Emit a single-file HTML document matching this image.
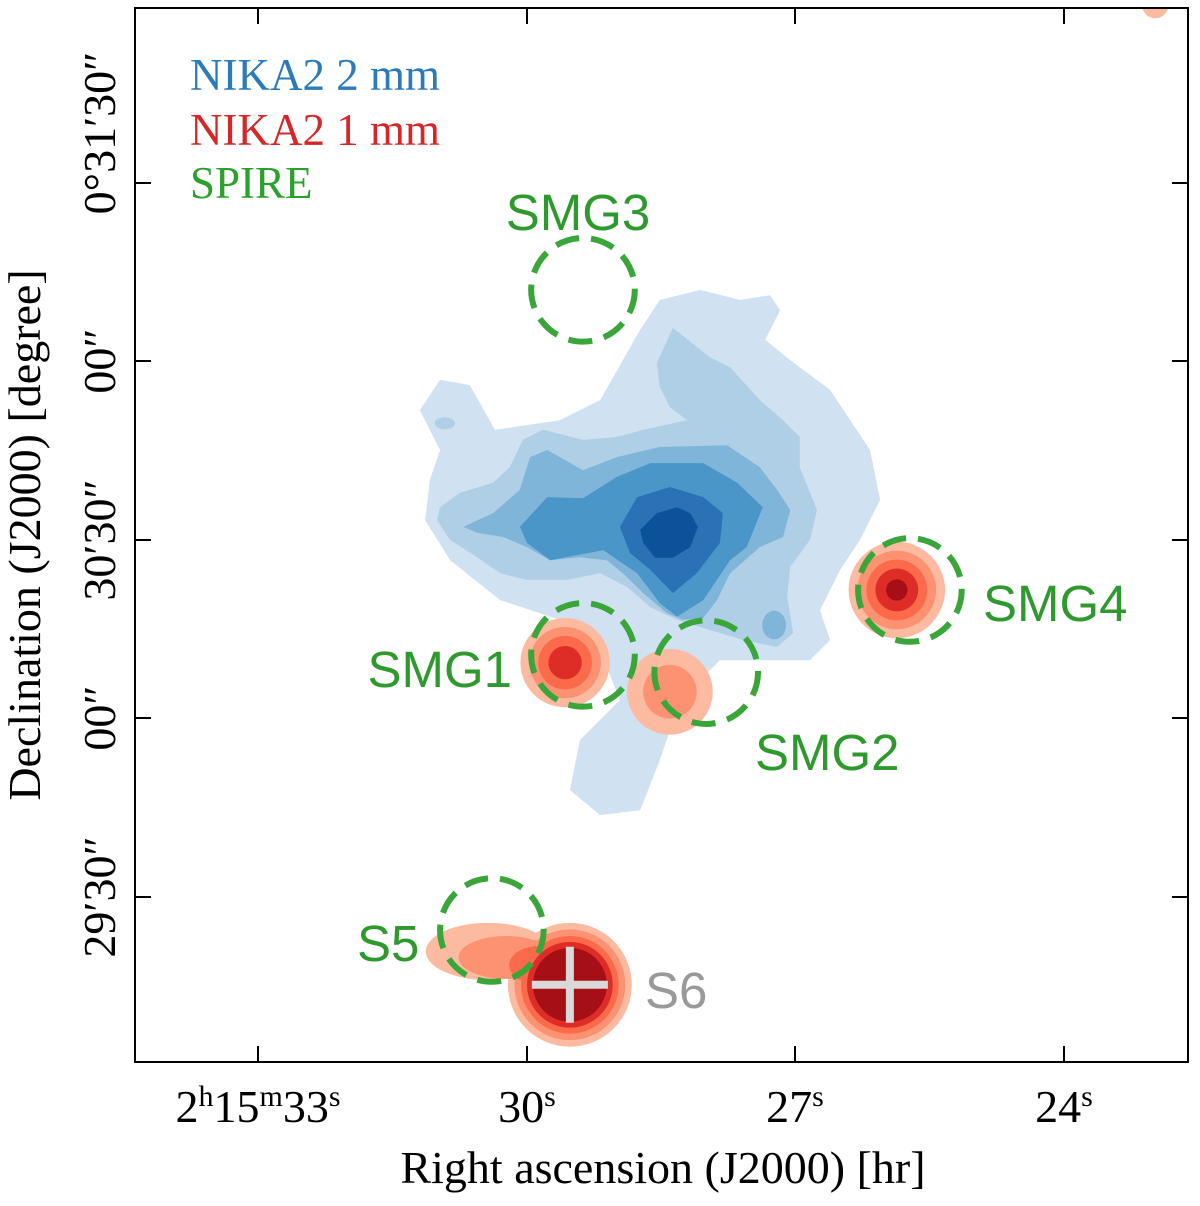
<!DOCTYPE html>
<html><head><meta charset="utf-8">
<style>
body{margin:0;background:#fff;}
svg text{font-family:"Liberation Serif",serif;}
.sans{font-family:"Liberation Sans",sans-serif !important;}
</style></head>
<body>
<svg id="chart" width="1200" height="1201" viewBox="0 0 1200 1201" xmlns="http://www.w3.org/2000/svg">
<rect x="0" y="0" width="1200" height="1201" fill="#fff"/>
<defs><clipPath id="clip"><rect x="135" y="8" width="1053" height="1054"/></clipPath></defs>
<g id="plot" clip-path="url(#clip)"></g>
<rect x="135" y="8" width="1053" height="1054" fill="none" stroke="#000" stroke-width="2"/>
<g id="ticks"></g>
<g>
<text x="190" y="90" font-size="45" fill="#2b7bba">NIKA2 2 mm</text>
<text x="190" y="145" font-size="45" fill="#d62728">NIKA2 1 mm</text>
<text x="190" y="198" font-size="45" fill="#2ca02c">SPIRE</text>
</g>
<text x="663" y="1183" font-size="46" text-anchor="middle">Right ascension (J2000) [hr]</text>
<text transform="translate(40,535) rotate(-90)" font-size="46" text-anchor="middle">Declination (J2000) [degree]</text>
<g font-size="46" text-anchor="middle">
<text x="258" y="1122">2<tspan font-size="30" dy="-16">h</tspan><tspan dy="16">15</tspan><tspan font-size="30" dy="-16">m</tspan><tspan dy="16">33</tspan><tspan font-size="30" dy="-16">s</tspan></text>
<text x="527" y="1122">30<tspan font-size="30" dy="-16">s</tspan></text>
<text x="795" y="1122">27<tspan font-size="30" dy="-16">s</tspan></text>
<text x="1064" y="1122">24<tspan font-size="30" dy="-16">s</tspan></text>
</g>
<g font-size="46" text-anchor="middle">
<text transform="translate(115,133) rotate(-90)">0°31′30″</text>
<text transform="translate(115,361) rotate(-90)">00″</text>
<text transform="translate(115,540) rotate(-90)">30′30″</text>
<text transform="translate(115,718) rotate(-90)">00″</text>
<text transform="translate(115,897) rotate(-90)">29′30″</text>
</g>
</svg>
<script>
// data coordinates: arcsec offsets from RA 2h15m30s, Dec 0°30'00" (west positive)
const blueL1=[[-18.0,51.7],[-14.6,56.8],[-9.6,55.9],[-5.4,48.4],[5.5,50.0],[12.3,53.4],[19.0,65.2],[22.3,70.2],[29.1,71.9],[35.8,70.2],[40.8,71.0],[42.5,68.5],[40.0,63.5],[44.2,60.1],[50.9,55.1],[57.6,45.0],[59.3,36.6],[55.9,29.9],[52.6,24.9],[49.2,18.1],[50.9,13.1],[47.5,9.7],[39.1,9.7],[32.4,9.7],[25.7,3.0],[22.3,-7.1],[19.0,-15.5],[12.3,-16.3],[7.2,-12.1],[8.9,-3.7],[15.6,3.0],[12.3,11.4],[5.5,16.5],[-4.5,19.8],[-12.9,26.5],[-17.1,33.2],[-16.3,40.0],[-14.6,45.0]];
const blueL2=[[24.5,65.5],[30.7,60.6],[34.1,58.9],[39.1,53.4],[43.0,50.0],[45.8,47.2],[45.8,42.1],[48.7,34.9],[47.5,29.9],[44.2,25.4],[43.7,20.3],[44.7,14.3],[42.0,11.9],[36.3,13.1],[30.7,14.8],[25.2,16.5],[20.7,18.6],[16.8,22.0],[12.3,24.3],[6.7,23.2],[0,23.2],[-4.5,24.3],[-8.4,27.0],[-12.9,29.9],[-15.1,33.2],[-14.6,35.4],[-11.3,37.8],[-5.7,39.5],[-2.9,42.1],[-0.7,46.7],[2.7,48.4],[9.4,46.7],[15.1,47.2],[19.5,48.4],[26.9,50.0],[24.0,52.2],[22.3,55.6],[21.8,59.6]];
const blueL3=[[-10.7,32.1],[-5.7,34.4],[-1.2,38.3],[0.5,43.8],[3.4,45.0],[9.4,41.6],[15.1,43.8],[22.3,45.5],[33.6,45.8],[39.1,42.1],[42.0,38.3],[44.2,34.9],[43.0,30.4],[39.1,28.7],[34.1,24.3],[31.9,19.8],[29.6,16.8],[26.2,16.5],[23.5,17.6],[19.5,21.0],[16.1,24.3],[13.4,26.5],[8.9,27.0],[3.9,26.5],[0,28.7],[-4.0,30.4],[-8.4,31.1]];
const blueL4=[[-1.2,32.1],[3.4,37.1],[9.4,36.9],[15.1,40.5],[20.7,42.8],[29.6,42.8],[35.3,39.5],[39.6,35.4],[36.9,28.7],[34.1,26.5],[29.6,19.8],[25.2,17.0],[22.3,19.3],[18.5,24.3],[12.8,28.2],[3.9,26.5],[0,29.4]];
const blueL5=[[15.6,32.1],[18.5,37.1],[24.0,38.8],[29.6,37.1],[32.9,34.4],[32.4,29.4],[28.5,24.3],[24.5,21.0],[20.7,24.9],[17.3,27.7]];
const blueL6=[[19.0,31.6],[21.8,34.4],[25.2,35.4],[27.4,34.4],[28.7,32.1],[27.4,28.7],[24.5,26.9],[21.5,26.9],[19.5,29.4]];
const blueContours=[blueL1,blueL2,blueL3,blueL4,blueL5,blueL6];
// small isolated blobs: [dx, dy, rx, ry, level]
const blueBlobs=[[-13.8,49.5,1.7,1.0,1],[41.5,15.6,2.0,2.4,2]];
const blueColors=["#d0e1f1","#aecfe5","#7fb5d9","#4a96c8","#2a72b5","#0b529a"];
const redColors=["#fcbba1","#fc9272","#fb6a4a","#de2d26","#a50f15"];
// red sources: [dx, dy, radii of successive contour levels]
const redSources=[[6.4,9.3,[7.5,6.0,4.5,2.8]],[24,4.4,[7.2,4.5]],[62.1,21.5,[8.1,6.6,5.1,3.6,1.8]],[7.2,-44.8,[10.4,9.3,8.2,7.2,6.2]],[105.5,119.7,[2.2]]];
// S5 elongated tail: [dx, dy, rx, ry, level]
const redTail=[[-6.5,-39.2,10.5,4.8,0],[-3.5,-40.2,8.0,3.6,1],[2,-41.5,5,3.2,2]];
const spireCircles=[[9.4,71.9],[9.4,10.6],[30.1,7.7],[64.3,21.5],[-5.9,-35.6]];
const spireRadius=8.7;
const labels=[["SMG3",578,230,"middle","#2e9a2e"],["SMG1",512,687,"end","#2e9a2e"],["SMG2",755,770,"start","#2e9a2e"],["SMG4",983,621,"start","#2e9a2e"],["S5",357,961,"start","#2e9a2e"],["S6",645,1008,"start","#999"]];
const S=5.955;
const X=d=>527+d*S, Y=d=>718-d*S;
const ns="http://www.w3.org/2000/svg";
const plot=document.getElementById('plot');
function mk(t,a){const e=document.createElementNS(ns,t);for(const k in a)e.setAttribute(k,a[k]);plot.appendChild(e);return e;}
blueContours.forEach((poly,i)=>{
const e=mk('path',{d:'M'+poly.map(q=>X(q[0])+','+Y(q[1])).join('L')+'Z',fill:blueColors[i]});

});
blueBlobs.forEach(b=>{const e=mk('ellipse',{cx:X(b[0]),cy:Y(b[1]),rx:b[2]*S,ry:b[3]*S,fill:blueColors[b[4]]});

});
const maxLev=Math.max(...redSources.map(s=>s[2].length));
for(let i=0;i<maxLev;i++){
redTail.forEach(t=>{if(t[4]===i){const e=mk('ellipse',{cx:X(t[0]),cy:Y(t[1]),rx:t[2]*S,ry:t[3]*S,fill:redColors[i]});

}});
redSources.forEach(s=>{if(i<s[2].length){const e=mk('circle',{cx:X(s[0]),cy:Y(s[1]),r:s[2][i]*S,fill:redColors[i]});

}});
}
spireCircles.forEach(c=>{const e=mk('circle',{cx:X(c[0]),cy:Y(c[1]),r:spireRadius*S,fill:'none',stroke:'#3aa63a','stroke-width':6,'stroke-dasharray':'24 12'});

});
const cx=X(redSources[3][0]),cy=Y(redSources[3][1]);
let c1=mk('path',{d:`M${cx-38},${cy}H${cx+38}M${cx},${cy-38}V${cy+38}`,stroke:'#d9d9d9','stroke-width':8});


labels.forEach(l=>{const t=mk('text',{x:l[1],y:l[2],'text-anchor':l[3],fill:l[4],'font-size':51,class:'sans'});t.textContent=l[0];

});
const tk=document.getElementById('ticks');
function tl(d){const e=document.createElementNS(ns,'path');e.setAttribute('d',d);e.setAttribute('stroke','#000');e.setAttribute('stroke-width',2);tk.appendChild(e);}
[258,527,795,1064].forEach(x=>{tl(`M${x},1062V1046`);tl(`M${x},8V24`);});
[183,361,540,718,897].forEach(y=>{tl(`M135,${y}H151`);tl(`M1188,${y}H1172`);});
</script>
</body></html>
